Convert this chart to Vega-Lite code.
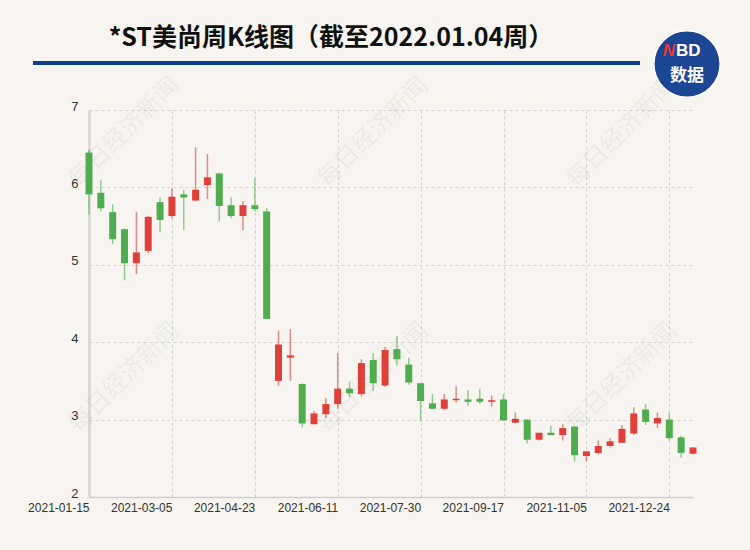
{
  "$schema": "https://vega.github.io/schema/vega-lite/v6.json",
  "width": 604,
  "height": 387,
  "autosize": {"type": "none"},
  "padding": {"left": 89, "top": 110, "right": 57, "bottom": 53},
  "background": "#f8f5f0",
  "config": {"view": {"stroke": null}, "font": "Liberation Sans"},
  "datasets": {
    "k": [
      {"date": "2021-01-15", "open": 6.45, "close": 5.91, "high": 6.49, "low": 5.65},
      {"date": "2021-01-22", "open": 5.93, "close": 5.73, "high": 6.10, "low": 5.69},
      {"date": "2021-01-29", "open": 5.68, "close": 5.33, "high": 5.78, "low": 5.27},
      {"date": "2021-02-05", "open": 5.46, "close": 5.02, "high": 5.47, "low": 4.80},
      {"date": "2021-02-10", "open": 5.02, "close": 5.16, "high": 5.68, "low": 4.88},
      {"date": "2021-02-19", "open": 5.18, "close": 5.62, "high": 5.63, "low": 5.15},
      {"date": "2021-02-26", "open": 5.81, "close": 5.58, "high": 5.87, "low": 5.42},
      {"date": "2021-03-05", "open": 5.63, "close": 5.88, "high": 5.99, "low": 5.60},
      {"date": "2021-03-12", "open": 5.91, "close": 5.87, "high": 5.97, "low": 5.45},
      {"date": "2021-03-19", "open": 5.83, "close": 5.97, "high": 6.52, "low": 5.82},
      {"date": "2021-03-26", "open": 6.03, "close": 6.13, "high": 6.43, "low": 5.85},
      {"date": "2021-04-02", "open": 6.18, "close": 5.76, "high": 6.19, "low": 5.56},
      {"date": "2021-04-09", "open": 5.77, "close": 5.63, "high": 5.87, "low": 5.60},
      {"date": "2021-04-16", "open": 5.63, "close": 5.77, "high": 5.82, "low": 5.45},
      {"date": "2021-04-23", "open": 5.77, "close": 5.72, "high": 6.12, "low": 5.69},
      {"date": "2021-04-30", "open": 5.69, "close": 4.30, "high": 5.73, "low": 4.30},
      {"date": "2021-05-07", "open": 3.50, "close": 3.97, "high": 4.15, "low": 3.44},
      {"date": "2021-05-14", "open": 3.80, "close": 3.83, "high": 4.17, "low": 3.50},
      {"date": "2021-05-21", "open": 3.46, "close": 2.95, "high": 3.47, "low": 2.90},
      {"date": "2021-05-28", "open": 2.94, "close": 3.08, "high": 3.11, "low": 2.94},
      {"date": "2021-06-04", "open": 3.07, "close": 3.20, "high": 3.28, "low": 3.02},
      {"date": "2021-06-11", "open": 3.20, "close": 3.40, "high": 3.86, "low": 3.14},
      {"date": "2021-06-18", "open": 3.40, "close": 3.34, "high": 3.49, "low": 3.29},
      {"date": "2021-06-25", "open": 3.33, "close": 3.73, "high": 3.78, "low": 3.30},
      {"date": "2021-07-02", "open": 3.77, "close": 3.47, "high": 3.86, "low": 3.37},
      {"date": "2021-07-09", "open": 3.44, "close": 3.90, "high": 3.94, "low": 3.42},
      {"date": "2021-07-16", "open": 3.91, "close": 3.78, "high": 4.08, "low": 3.70},
      {"date": "2021-07-23", "open": 3.71, "close": 3.48, "high": 3.80, "low": 3.45},
      {"date": "2021-07-30", "open": 3.47, "close": 3.24, "high": 3.47, "low": 2.98},
      {"date": "2021-08-06", "open": 3.21, "close": 3.14, "high": 3.33, "low": 3.13},
      {"date": "2021-08-13", "open": 3.14, "close": 3.26, "high": 3.33, "low": 3.12},
      {"date": "2021-08-20", "open": 3.25, "close": 3.27, "high": 3.43, "low": 3.22},
      {"date": "2021-08-27", "open": 3.26, "close": 3.23, "high": 3.38, "low": 3.18},
      {"date": "2021-09-03", "open": 3.27, "close": 3.23, "high": 3.40, "low": 3.20},
      {"date": "2021-09-10", "open": 3.23, "close": 3.25, "high": 3.31, "low": 3.17},
      {"date": "2021-09-17", "open": 3.26, "close": 2.99, "high": 3.33, "low": 2.98},
      {"date": "2021-09-24", "open": 2.96, "close": 3.01, "high": 3.09, "low": 2.95},
      {"date": "2021-09-30", "open": 3.00, "close": 2.74, "high": 3.00, "low": 2.69},
      {"date": "2021-10-08", "open": 2.74, "close": 2.83, "high": 2.83, "low": 2.73},
      {"date": "2021-10-15", "open": 2.83, "close": 2.80, "high": 2.92, "low": 2.80},
      {"date": "2021-10-22", "open": 2.80, "close": 2.89, "high": 2.94, "low": 2.73},
      {"date": "2021-10-29", "open": 2.91, "close": 2.54, "high": 2.91, "low": 2.46},
      {"date": "2021-11-05", "open": 2.53, "close": 2.59, "high": 2.59, "low": 2.46},
      {"date": "2021-11-12", "open": 2.57, "close": 2.66, "high": 2.73, "low": 2.55},
      {"date": "2021-11-19", "open": 2.66, "close": 2.72, "high": 2.76, "low": 2.64},
      {"date": "2021-11-26", "open": 2.70, "close": 2.88, "high": 2.93, "low": 2.70},
      {"date": "2021-12-03", "open": 2.82, "close": 3.08, "high": 3.16, "low": 2.80},
      {"date": "2021-12-10", "open": 3.13, "close": 2.97, "high": 3.20, "low": 2.93},
      {"date": "2021-12-17", "open": 2.95, "close": 3.02, "high": 3.09, "low": 2.89},
      {"date": "2021-12-24", "open": 3.00, "close": 2.76, "high": 3.09, "low": 2.73},
      {"date": "2021-12-31", "open": 2.77, "close": 2.57, "high": 2.79, "low": 2.51},
      {"date": "2022-01-04", "open": 2.56, "close": 2.64, "high": 2.64, "low": 2.55}
    ],
    "wm": [
      {"date": "2021-02-05", "price": 6.71, "label": "每日经济新闻"},
      {"date": "2021-07-02", "price": 6.71, "label": "每日经济新闻"},
      {"date": "2021-11-26", "price": 6.71, "label": "每日经济新闻"},
      {"date": "2021-02-05", "price": 3.54, "label": "每日经济新闻"},
      {"date": "2021-07-02", "price": 3.54, "label": "每日经济新闻"},
      {"date": "2021-11-26", "price": 3.54, "label": "每日经济新闻"}
    ]
  },
  "layer": [
    {
      "data": {"name": "wm"},
      "mark": {"type": "text", "font": "Noto Sans CJK SC", "fontSize": 24, "angle": -45, "color": "#000000", "opacity": 0.045, "align": "center", "baseline": "middle"},
      "encoding": {
        "x": {"field": "date", "type": "ordinal", "scale": {"type": "point", "padding": 0}},
        "y": {"field": "price", "type": "quantitative"},
        "text": {"field": "label"}
      }
    },
    {
      "data": {"name": "k"},
      "mark": {"type": "rule", "strokeWidth": 1.5, "opacity": 0.6},
      "encoding": {
        "x": {"field": "date", "type": "ordinal", "scale": {"type": "point", "padding": 0},
          "axis": {"values": ["2021-01-15", "2021-03-05", "2021-04-23", "2021-06-11", "2021-07-30", "2021-09-17", "2021-11-05", "2021-12-24"], "labelAngle": 0, "grid": true, "gridDash": [3, 3], "gridColor": "#d2d2d2", "ticks": false, "domainColor": "#cfcfcf", "domainWidth": 1.5, "title": null, "labelFontSize": 12, "labelColor": "#333333", "labelPadding": 10}},
        "y": {"field": "low", "type": "quantitative", "scale": {"domain": [2, 7], "zero": false},
          "axis": {"values": [2, 3, 4, 5, 6, 7], "format": "d", "grid": true, "gridDash": [3, 3], "gridColor": "#d2d2d2", "ticks": false, "domainColor": "#d6d6d6", "domainWidth": 2.5, "labelPadding": 11, "labelFontSize": 13, "labelColor": "#333333", "labelBaseline": "middle", "labelOffset": -4, "title": null}},
        "y2": {"field": "high"},
        "color": {"condition": {"test": "datum.close > datum.open", "value": "#e0403a"}, "value": "#4fad50"}
      }
    },
    {
      "data": {"name": "k"},
      "mark": {"type": "bar", "size": 7},
      "encoding": {
        "x": {"field": "date", "type": "ordinal", "scale": {"type": "point", "padding": 0}},
        "y": {"field": "open", "type": "quantitative"},
        "y2": {"field": "close"},
        "color": {"condition": {"test": "datum.close > datum.open", "value": "#e0403a"}, "value": "#4fad50"}
      }
    },
    {
      "data": {"values": [{"t": "*ST美尚周K线图（截至2022.01.04周）"}]},
      "mark": {"type": "text", "font": "Noto Sans CJK SC", "fontSize": 25, "fontWeight": "bold", "color": "#111111", "align": "center", "baseline": "middle"},
      "encoding": {"x": {"value": 242}, "y": {"value": -72}, "text": {"field": "t"}}
    },
    {
      "data": {"values": [{}]},
      "mark": {"type": "rule", "strokeWidth": 4, "color": "#0e3f92"},
      "encoding": {"x": {"value": -56}, "x2": {"value": 551}, "y": {"value": -47}}
    },
    {
      "data": {"values": [{}]},
      "mark": {"type": "point", "shape": "circle", "filled": true, "size": 4400, "color": "#1c4594", "opacity": 1, "stroke": "#ffffff", "strokeWidth": 1.5},
      "encoding": {"x": {"value": 598}, "y": {"value": -46}}
    },
    {
      "data": {"values": [{"t": "N"}]},
      "mark": {"type": "text", "font": "Liberation Sans", "fontSize": 17, "fontWeight": "bold", "fontStyle": "italic", "color": "#e8392f", "align": "right", "baseline": "middle"},
      "encoding": {"x": {"value": 586}, "y": {"value": -59}, "text": {"field": "t"}}
    },
    {
      "data": {"values": [{"t": "BD"}]},
      "mark": {"type": "text", "font": "Liberation Sans", "fontSize": 17, "fontWeight": "bold", "color": "#ffffff", "align": "left", "baseline": "middle"},
      "encoding": {"x": {"value": 587}, "y": {"value": -59}, "text": {"field": "t"}}
    },
    {
      "data": {"values": [{"t": "数据"}]},
      "mark": {"type": "text", "font": "Noto Sans CJK SC", "fontSize": 17, "fontWeight": "bold", "color": "#ffffff", "align": "center", "baseline": "middle"},
      "encoding": {"x": {"value": 598}, "y": {"value": -34}, "text": {"field": "t"}}
    }
  ]
}
